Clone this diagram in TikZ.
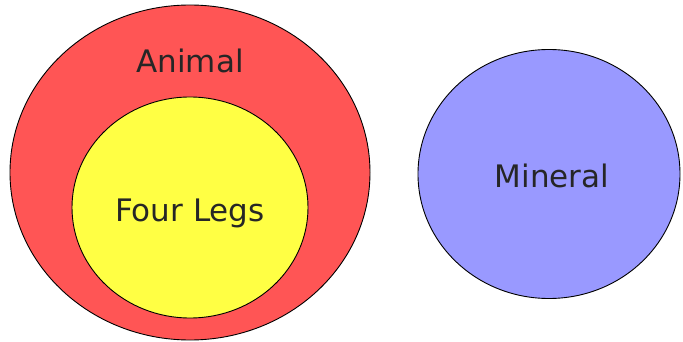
\documentclass[tikz,border=0pt]{standalone}
\usepackage{fontspec}
\setmainfont{DejaVu Sans}
\usetikzlibrary{shapes.geometric}

\definecolor{animalred}{HTML}{FF5555}
\definecolor{legsyellow}{HTML}{FFFF44}
\definecolor{mineralblue}{HTML}{9999FF}

\begin{document}
\begin{tikzpicture}[x=1pt, y=-1pt,
        setshape/.style={ellipse, draw=black, line width=0.9pt, inner sep=0pt},
        setlabel/.style={anchor=base, font=\fontsize{31}{36}\selectfont, text=black!85}]
        % Page size (683 x 342)
        \useasboundingbox (0,0) rectangle (683,342);

        % Outer set and the subset inside it
        \node[setshape, fill=animalred, minimum width=360, minimum height=335] (animal) at (190,172.5) {};
        \node[setshape, fill=legsyellow, minimum width=236, minimum height=221] (legs) at (190,207.5) {};

        % Disjoint set on the right
        \node[setshape, fill=mineralblue, minimum width=262, minimum height=249] (mineral) at (549,174) {};

        % Labels sit on their baselines
        \node[setlabel] (animaltext) at (190,73) {Animal};
        \node[setlabel] (legstext) at (190,221) {Four Legs};
        \node[setlabel] (mineraltext) at (552,187) {Mineral};
    \end{tikzpicture}
\end{document}
